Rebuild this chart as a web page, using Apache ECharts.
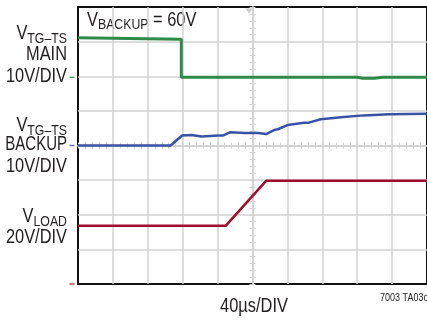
<!DOCTYPE html>
<html>
<head>
<meta charset="utf-8">
<script src="https://cdn.jsdelivr.net/npm/echarts@6/dist/echarts.min.js"></script>
<style>
  html, body { margin: 0; padding: 0; background: #fff; }
  #chart { width: 427px; height: 320px; }
</style>
</head>
<body>
<div id="chart"></div>
<script>
  // x in µs (40µs/DIV), y in divisions from the centre line
  const xRange = [-200, 200]
  const xStep = 40
  const yRange = [-4, 4]

  const mainTime = [-200, -81.6, -81.6, 120, 126, 140, 149, 200]
  const mainDiv = [3.11, 3.07, 1.97, 1.97, 1.94, 1.94, 1.97, 1.97]

  const backupTime = [-200, -93.8, -80.7, -69.7, -58.3, -39.1, -33.4, -25.8, -8.8, 6.2, 15.6, 25.2, 28.9, 40.2, 59.1, 64.8, 78, 104.5, 127.1, 157.3, 200]
  const backupDiv = [0, 0, 0.29, 0.30, 0.26, 0.29, 0.29, 0.38, 0.36, 0.36, 0.33, 0.45, 0.47, 0.59, 0.66, 0.66, 0.76, 0.82, 0.87, 0.90, 0.92]

  const loadTime = [-200, -30.8, 15.6, 200]
  const loadDiv = [-2.32, -2.32, -1.02, -1.02]

  // ground reference markers on the left edge: main, backup, load
  const groundDiv = [1.97, 0, -4]

  // narrow sans: Liberation Sans squeezed horizontally
  const FONT = '"Liberation Sans", Arial, sans-serif'
  const SQUEEZE = 0.82
  const textColor = '#231f20'
  const gridColor = '#d2d2d2'
  const colors = ['#2e8a47', '#3953a4', '#9d0e2f']

  const zip = (a, b) => a.map((v, i) => [v, b[i]])

  const ctx = document.createElement('canvas').getContext('2d')
  function textWidth(str, size) {
    ctx.font = size + 'px ' + FONT
    return ctx.measureText(str).width * SQUEEZE
  }

  function txt(str, x, baseline, size, align, squeeze) {
    return {
      type: 'text',
      x: x,
      y: baseline - size * 0.34,
      scaleX: squeeze || SQUEEZE,
      style: {
        text: str,
        font: size + 'px ' + FONT,
        fill: textColor,
        align: align || 'right',
        verticalAlign: 'middle'
      }
    }
  }

  // "V" with subscript, right aligned at x
  function vLabel(sub, right, baseline) {
    const w = textWidth(sub, 15)
    return [
      txt('V', right - w, baseline, 20),
      txt(sub, right, baseline + 3.5, 15)
    ]
  }

  let graphics = []
  graphics = graphics.concat(vLabel('TG–TS', 67, 40))
  graphics.push(txt('MAIN', 67, 61, 20))
  graphics.push(txt('10V/DIV', 67, 83, 20))
  graphics = graphics.concat(vLabel('TG–TS', 67, 132))
  graphics.push(txt('BACKUP', 67, 151, 20, 'right', 0.75))
  graphics.push(txt('10V/DIV', 67, 173, 20))
  graphics = graphics.concat(vLabel('LOAD', 67, 223))
  graphics.push(txt('20V/DIV', 67, 244, 20))

  // top note
  const topX = 87
  const vW = textWidth('V', 20)
  const subW = textWidth('BACKUP', 15)
  graphics.push(txt('V', topX, 27, 20, 'left'))
  graphics.push(txt('BACKUP', topX + vW, 30, 15, 'left'))
  graphics.push(txt(' = 60V', topX + vW + subW, 27, 20, 'left'))

  graphics.push(txt('40µs/DIV', 254, 313, 20, 'center'))
  graphics.push(txt('7003 TA03c', 380, 302, 11, 'left'))

  const centerAxis = {
    type: 'value',
    axisLabel: {show: false},
    axisLine: {show: true, onZero: true, lineStyle: {color: gridColor, width: 1.5}},
    axisTick: {show: true, length: 3, lineStyle: {color: gridColor}},
    minorTick: {show: true, splitNumber: 5, length: 3, lineStyle: {color: gridColor}}
  }

  const chart = echarts.init(document.getElementById('chart'), null, {renderer: 'canvas'})
  chart.setOption({
    animation: false,
    backgroundColor: '#fff',
    grid: {
      left: 78, top: 7, width: 353, height: 277,
      show: true, borderColor: '#111', borderWidth: 2
    },
    xAxis: [
      Object.assign({}, centerAxis, {
        position: 'bottom', min: xRange[0], max: xRange[1], interval: xStep,
        splitLine: {show: true, showMinLine: false, showMaxLine: false, lineStyle: {color: gridColor, width: 1.5}}
      }),
      Object.assign({}, centerAxis, {
        position: 'top', min: xRange[0], max: xRange[1], interval: xStep,
        splitLine: {show: false}
      })
    ],
    yAxis: [
      Object.assign({}, centerAxis, {
        position: 'left', min: yRange[0], max: yRange[1], interval: 1,
        splitLine: {show: true, showMinLine: false, showMaxLine: false, lineStyle: {color: gridColor, width: 1.5}}
      }),
      Object.assign({}, centerAxis, {
        position: 'right', min: yRange[0], max: yRange[1], interval: 1,
        splitLine: {show: false}
      })
    ],
    series: [
      {
        type: 'line', data: zip(mainTime, mainDiv), showSymbol: false,
        lineStyle: {color: colors[0], width: 3}, z: 5
      },
      {
        type: 'line', data: zip(backupTime, backupDiv), showSymbol: false,
        lineStyle: {color: colors[1], width: 2.5}, z: 5
      },
      {
        type: 'line', data: zip(loadTime, loadDiv), showSymbol: false,
        lineStyle: {color: colors[2], width: 2.5}, z: 5
      },
      {
        type: 'scatter', clip: false, symbol: 'rect', symbolSize: [5, 1.5], symbolOffset: [-6, 0],
        data: groundDiv.map((v, i) => ({value: [xRange[0], v], itemStyle: {color: colors[i]}})),
        z: 6
      },
      {
        type: 'scatter', clip: false, symbol: 'triangle', symbolRotate: 180, symbolSize: [7, 5], symbolOffset: [0, 4],
        data: [[-4, yRange[1]]], itemStyle: {color: '#bdbdbd'}, z: 6
      }
    ],
    graphic: graphics
  })
</script>
</body>
</html>
